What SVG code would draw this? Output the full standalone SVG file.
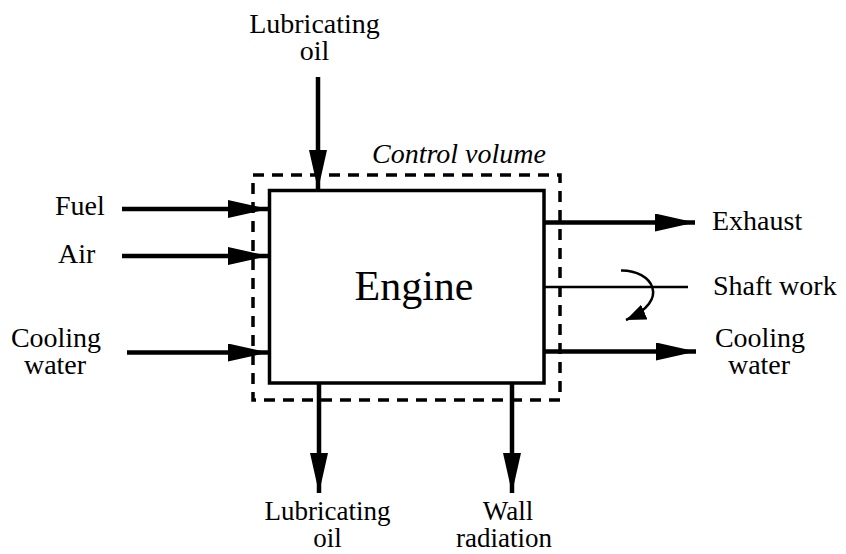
<svg xmlns="http://www.w3.org/2000/svg" width="846" height="554" viewBox="0 0 846 554">
<style>
  text { font-family: "Liberation Serif", "Times New Roman", serif; font-size: 28px; fill: #000; }
  .ital { font-style: italic; }
  .big { font-size: 42px; }
  .flow { stroke: #000; stroke-width: 4.5; fill: none; }
  .thin { stroke: #000; stroke-width: 2.5; fill: none; }
</style>
<defs>
  <marker id="ah" markerUnits="userSpaceOnUse" markerWidth="40" markerHeight="18" refX="40" refY="9" orient="auto" viewBox="0 0 40 18">
    <path d="M0,0 L40,9 L0,18 z" fill="#000"/>
  </marker>
  <marker id="ahs" markerUnits="userSpaceOnUse" markerWidth="20" markerHeight="16" refX="20" refY="8" orient="auto" viewBox="0 0 20 16">
    <path d="M0,0 L20,8 L0,16 z" fill="#000"/>
  </marker>
</defs>

<g id="control-volume">
  <rect x="253" y="175" width="307" height="225" fill="none" stroke="#000" stroke-width="3.5" stroke-dasharray="11 8"/>
  <text class="ital" x="372" y="163">Control volume</text>
</g>

<g id="engine">
  <rect x="269.5" y="190.5" width="274.5" height="192.5" fill="none" stroke="#000" stroke-width="3.5"/>
  <text class="big" x="414" y="300" text-anchor="middle">Engine</text>
</g>

<g id="connectors">
  <line class="flow" x1="318" y1="77" x2="318" y2="190" marker-end="url(#ah)"/>
  <line class="flow" x1="122" y1="209" x2="268" y2="209" marker-end="url(#ah)"/>
  <line class="flow" x1="122" y1="256" x2="268" y2="256" marker-end="url(#ah)"/>
  <line class="flow" x1="127" y1="352.5" x2="268" y2="352.5" marker-end="url(#ah)"/>
  <line class="flow" x1="544" y1="222.5" x2="695" y2="222.5" marker-end="url(#ah)"/>
  <line class="thin" x1="544" y1="287" x2="688" y2="287"/>
  <path class="thin" d="M621,270.5 C652,270 672,300 626,320" stroke-width="3.5" marker-end="url(#ahs)"/>
  <line class="flow" x1="544" y1="351.5" x2="696" y2="351.5" marker-end="url(#ah)"/>
  <line class="flow" x1="319" y1="383" x2="319" y2="493" marker-end="url(#ah)"/>
  <line class="flow" x1="512" y1="383" x2="512" y2="493" marker-end="url(#ah)"/>
</g>

<g id="lube-oil-in">
  <text x="314.5" y="33" text-anchor="middle">Lubricating</text>
  <text x="314.5" y="60" text-anchor="middle">oil</text>
</g>
<g id="fuel"><text x="55" y="215">Fuel</text></g>
<g id="air"><text x="58" y="263">Air</text></g>
<g id="cooling-in">
  <text x="56" y="347" text-anchor="middle">Cooling</text>
  <text x="55" y="374" text-anchor="middle">water</text>
</g>
<g id="exhaust"><text x="712" y="230">Exhaust</text></g>
<g id="shaft-work"><text x="713" y="295">Shaft work</text></g>
<g id="cooling-out">
  <text x="760" y="347" text-anchor="middle">Cooling</text>
  <text x="759" y="374" text-anchor="middle">water</text>
</g>
<g id="lube-oil-out">
  <text x="327.5" y="520" text-anchor="middle" style="font-size:27px">Lubricating</text>
  <text x="327.5" y="547" text-anchor="middle" style="font-size:27px">oil</text>
</g>
<g id="wall-radiation">
  <text x="508" y="520" text-anchor="middle" style="font-size:27px">Wall</text>
  <text x="504" y="547" text-anchor="middle" style="font-size:27px">radiation</text>
</g>
</svg>
